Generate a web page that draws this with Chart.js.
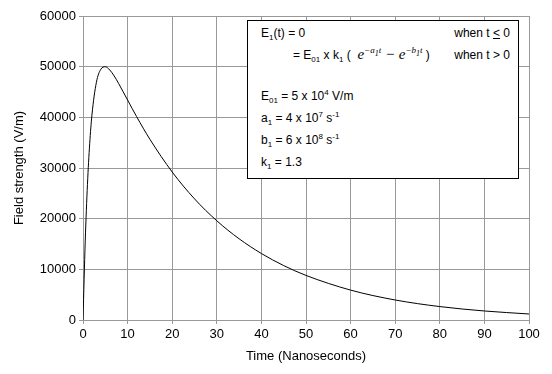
<!DOCTYPE html>
<html>
<head>
<meta charset="utf-8">
<script src="https://cdn.jsdelivr.net/npm/chart.js@4"></script>
<style>
  body { margin: 0; background: #fff; }
  #wrap { position: relative; width: 552px; height: 374px; }
  #box {
    position: absolute; left: 247px; top: 20px; width: 272px; height: 159px;
    border: 1px solid #000; background: #fff; box-sizing: border-box;
    font-family: "Liberation Sans", Arial, sans-serif; font-size: 12px; color: #000;
  }
  #box div { position: absolute; white-space: nowrap; }
  sub, sup { font-size: 8px; line-height: 0; }
  .ex { font-family: "Liberation Serif", "Times New Roman", serif; font-style: italic; font-size: 15px; }
  .ex sup { font-size: 9px; }
</style>
</head>
<body>
<div id="wrap">
  <canvas id="fieldChart" width="552" height="374"></canvas>
  <div id="box">
    <div style="left:13px;top:5px">E<sub>1</sub>(t) = 0</div>
    <div style="right:8px;top:5px">when t <u>&lt;</u> 0</div>
    <div style="left:45px;top:25px">= E<sub>01</sub> x k<sub>1</sub> (&nbsp; <span class="ex">e<sup>&minus;a<sub>1</sub>t</sup> &minus; e<sup>&minus;b<sub>1</sub>t</sup></span> )</div>
    <div style="right:8px;top:27px">when t &gt; 0</div>
    <div style="left:13px;top:68px">E<sub>01</sub> = 5 x 10<sup>4</sup> V/m</div>
    <div style="left:13px;top:90px">a<sub>1</sub> = 4 x 10<sup>7</sup> s<sup>-1</sup></div>
    <div style="left:13px;top:112px">b<sub>1</sub> = 6 x 10<sup>8</sup> s<sup>-1</sup></div>
    <div style="left:13px;top:134px">k<sub>1</sub> = 1.3</div>
  </div>
</div>
<script>
// valeurs
const timeNs = [0, 0.5, 1, 1.5, 2, 3, 4, 5, 6, 7, 8, 10, 12, 15, 20, 25, 30, 35, 40, 45, 50, 60, 70, 80, 90, 100];
const fieldVm = [0, 15560, 26780, 34790, 40420, 46900, 49490, 49980, 49350, 48150, 46660, 43410, 40170, 35670, 29210, 23910, 19580, 16030, 13120, 10740, 8800, 5900, 3950, 2650, 1780, 1190];
const xTicks = [0, 10, 20, 30, 40, 50, 60, 70, 80, 90, 100];
const yTicks = [0, 10000, 20000, 30000, 40000, 50000, 60000];

const points = timeNs.map((t, i) => ({ x: t, y: fieldVm[i] }));
const fontBase = { family: '"Liberation Sans", Arial, sans-serif', size: 13 };

new Chart(document.getElementById('fieldChart').getContext('2d'), {
  type: 'scatter',
  data: {
    datasets: [{
      data: points,
      showLine: true,
      borderColor: '#000',
      borderWidth: 1,
      pointRadius: 0,
      tension: 0.4,
      cubicInterpolationMode: 'monotone'
    }]
  },
  options: {
    responsive: false,
    animation: false,
    layout: { padding: { top: 16, right: 23, left: 8, bottom: 6 } },
    plugins: { legend: { display: false }, tooltip: { enabled: false } },
    scales: {
      x: {
        type: 'linear', min: 0, max: 100,
        afterBuildTicks: s => { s.ticks = xTicks.map(v => ({ value: v })); },
        grid: { color: '#999', tickLength: 4, lineWidth: 1 },
        border: { color: '#999' },
        ticks: { color: '#000', font: fontBase, padding: 3, maxRotation: 0, callback: v => String(v) },
        title: { display: true, text: 'Time (Nanoseconds)', color: '#000', font: fontBase, padding: { top: 6 } },
        afterFit: s => { s.height = 48; }
      },
      y: {
        min: 0, max: 60000,
        afterBuildTicks: s => { s.ticks = yTicks.map(v => ({ value: v })); },
        grid: { color: '#999', tickLength: 4, lineWidth: 1 },
        border: { color: '#999' },
        ticks: { color: '#000', font: fontBase, padding: 3, callback: v => String(v) },
        title: { display: true, text: 'Field strength (V/m)', color: '#000', font: fontBase, padding: { bottom: 4 } },
        afterFit: s => { s.width = 75; }
      }
    }
  }
});
</script>
</body>
</html>
